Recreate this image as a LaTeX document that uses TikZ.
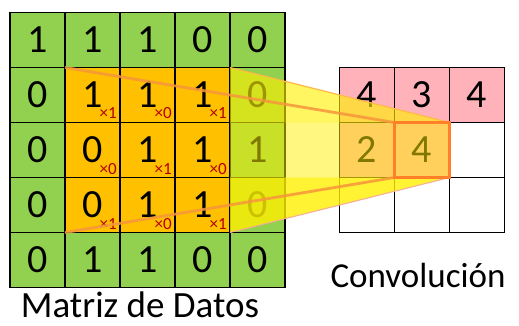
\documentclass[tikz,border=0pt]{standalone}
\usepackage{fontspec}
\setmainfont{Carlito}
\usetikzlibrary{calc}

\definecolor{cellgreen}{RGB}{146,208,80}
\definecolor{kernelorange}{RGB}{255,192,0}
\definecolor{resultpink}{RGB}{255,178,186}
\definecolor{fanyellow}{RGB}{255,240,0}
\definecolor{rayorange}{RGB}{246,150,60}
\definecolor{weightred}{RGB}{180,0,0}
\definecolor{focusorange}{RGB}{255,128,40}
\definecolor{fanedgeorange}{RGB}{255,185,70}
\definecolor{fanedgesalmon}{RGB}{248,170,150}

\tikzset{
  cell/.style={draw=black, line width=1.6pt, minimum width=55pt, minimum height=55pt,
    inner sep=0pt, outer sep=0pt, font=\fontsize{40}{40}\selectfont},
  weight/.style={font=\fontsize{17}{17}\selectfont, text=weightred, anchor=base east, inner sep=0pt},
  caption/.style={font=\fontsize{#1}{#1}\selectfont, anchor=base, inner sep=0pt},
  fan/.style={fill=fanyellow, fill opacity=#1},
  ray/.style={draw=rayorange, draw opacity=0.85, line width=2.8pt},
  focus/.style={draw=focusorange, line width=2.6pt},
}

\begin{document}
\begin{tikzpicture}[x=1pt, y=-1pt]
  \useasboundingbox (0,0) rectangle (519,326);

  % input matrix, 3x3 window in orange
  \foreach \row [count=\r] in {{1,1,1,0,0},{0,1,1,1,0},{0,0,1,1,1},{0,0,1,1,0},{0,1,1,0,0}} {
    \foreach \v [count=\c] in \row {
      \pgfmathtruncatemacro\inwin{(\r>1)&&(\r<5)&&(\c>1)&&(\c<5)}
      \ifnum\inwin=1 \def\cfill{kernelorange}\else\def\cfill{cellgreen}\fi
      \node[cell, fill=\cfill] (in-\r-\c) at ({37.5+55*(\c-1)}, {40+55*(\r-1)}) {\v};
    }
  }

  % kernel weights
  \foreach \w [count=\i from 0] in {1,0,1,0,1,0,1,0,1} {
    \pgfmathtruncatemacro\r{2+div(\i,3)}
    \pgfmathtruncatemacro\c{2+mod(\i,3)}
    \node[weight] (w-\r-\c) at ([xshift=-3pt, yshift=3.5pt]in-\r-\c.south east) {×\w};
  }

  % output matrix
  \foreach \r/\c/\v/\f in {1/1/4/resultpink, 1/2/3/resultpink, 1/3/4/resultpink,
                           2/1/2/resultpink, 2/2/4/resultpink, 2/3//white,
                           3/1//white, 3/2//white, 3/3//white} {
    \node[cell, fill=\f] (out-\r-\c) at ({367+55*(\c-1)}, {95+55*(\r-1)}) {\v};
  }

  % projection of the window onto the output cell
  \fill[fan=0.62] (in-2-4.north east) -- (out-2-2.north east) -- (in-2-5.south west) -- cycle;
  \fill[fan=0.5] (in-2-5.south west) -- (out-2-2.north east) -- (out-2-2.south east)
                 -- (in-4-5.north west) -- cycle;
  \fill[fan=0.8] (in-4-5.north west) -- (out-2-2.south east) -- (in-4-4.south east) -- cycle;
  \draw[fanedgeorange, line width=1.2pt] (in-2-4.north east) -- (out-2-2.north east);
  \draw[fanedgesalmon, line width=1pt] (in-4-4.south east) -- (out-2-2.south east);

  \draw[ray] (in-2-2.north west) -- (out-2-2.north west);
  \draw[ray] (in-4-2.south west) -- (out-2-2.south west);

  \draw[focus] (out-2-2.north west) rectangle (out-2-2.south east);

  % captions
  \node[caption=37] (matrix-caption) at (140,317) {Matriz de Datos};
  \node[caption=35] (conv-caption) at (418,287) {Convolución};
\end{tikzpicture}
\end{document}
